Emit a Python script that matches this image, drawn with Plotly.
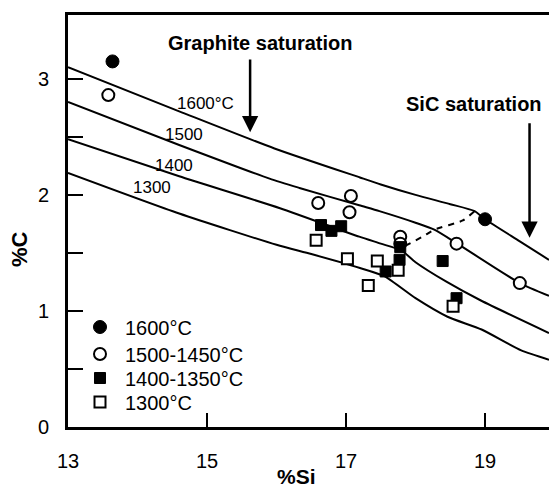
import plotly.graph_objects as go

# ---- isotherm curves (%Si, %C) ----
x1600 = [13.0, 14.6, 15.97, 17.2, 17.5, 18.0, 18.5, 18.85, 19.0, 19.5, 19.92]
y1600 = [3.10, 2.72, 2.40, 2.15, 2.09, 2.00, 1.92, 1.86, 1.79, 1.60, 1.44]
x1500 = [13.0, 14.6, 15.9, 16.33, 17.19, 17.48, 18.0, 18.27, 18.6, 19.5, 19.92]
y1500 = [2.80, 2.43, 2.14, 2.06, 1.91, 1.86, 1.76, 1.70, 1.58, 1.24, 1.13]
x1400 = [13.0, 14.6, 16.05, 17.19, 17.5, 17.8, 18.0, 18.45, 18.94, 19.92]
y1400 = [2.48, 2.16, 1.885, 1.64, 1.58, 1.52, 1.42, 1.25, 1.09, 0.81]
x1300 = [13.0, 14.6, 16.0, 16.5, 17.2, 17.55, 18.0, 18.46, 18.95, 19.52, 19.92]
y1300 = [2.19, 1.84, 1.57, 1.49, 1.37, 1.30, 1.11, 0.95, 0.84, 0.66, 0.58]
x_sic = [17.85, 18.1, 18.27, 18.68, 18.85]
y_sic = [1.56, 1.64, 1.70, 1.78, 1.86]

# ---- measured points ----
si_1600 = [13.64, 19.0]
c_1600 = [3.15, 1.79]
si_1500 = [13.58, 16.60, 17.07, 17.05, 17.78, 17.78, 18.59, 19.50]
c_1500 = [2.86, 1.93, 1.99, 1.85, 1.64, 1.58, 1.58, 1.24]
si_1400 = [16.64, 16.79, 16.93, 17.78, 17.77, 17.57, 18.39, 18.59]
c_1400 = [1.74, 1.69, 1.73, 1.55, 1.44, 1.34, 1.43, 1.11]
si_1300 = [16.57, 17.02, 17.45, 17.32, 17.75, 18.54]
c_1300 = [1.61, 1.45, 1.43, 1.22, 1.35, 1.04]

legend_names = ["1600°C", "1500-1450°C", "1400-1350°C", "1300°C"]
curve_labels = ["1600°C", "1500", "1400", "1300"]
curve_label_x = [14.98, 14.67, 14.53, 14.21]
curve_label_y = [2.79, 2.52, 2.25, 2.06]

x_ticks = [13, 15, 17, 19]
y_ticks = [0, 0.5, 1, 1.5, 2, 2.5, 3]
y_ticktext = ["0", "", "1", "", "2", "", "3"]

FONT = "Arial, Liberation Sans, sans-serif"

L, R, T, B = 68, 0, 15, 63
W, H = 549, 490
pw, ph = W - L - R, H - T - B


def px2paper(px, py):
    return (px - L) / pw, (H - B - py) / ph


fig = go.Figure()
for xs, ys in [(x1600, y1600), (x1500, y1500), (x1400, y1400), (x1300, y1300)]:
    fig.add_trace(go.Scatter(x=xs, y=ys, mode="lines", showlegend=False,
                             line=dict(color="black", width=2, shape="spline", smoothing=0.6),
                             hoverinfo="skip"))
fig.add_trace(go.Scatter(x=x_sic, y=y_sic, mode="lines", showlegend=False,
                         line=dict(color="black", width=2, dash="6px,6px", shape="spline", smoothing=0.6),
                         hoverinfo="skip"))

legend_ids = ["legend", "legend2", "legend3", "legend4"]
marker_styles = [
    dict(symbol="circle", size=13, color="black", line=dict(color="black", width=1)),
    dict(symbol="circle", size=12, color="white", line=dict(color="black", width=2)),
    dict(symbol="square", size=11, color="black", line=dict(color="black", width=1)),
    dict(symbol="square", size=11, color="white", line=dict(color="black", width=2)),
]
for xs, ys, nm, lg, ms in zip([si_1600, si_1500, si_1400, si_1300],
                              [c_1600, c_1500, c_1400, c_1300],
                              legend_names, legend_ids, marker_styles):
    fig.add_trace(go.Scatter(x=xs, y=ys, mode="markers", name=nm, legend=lg, marker=ms))

annotations = []
for t, lx, ly in zip(curve_labels, curve_label_x, curve_label_y):
    annotations.append(dict(x=lx, y=ly, xref="x", yref="y", text=t, showarrow=False,
                            font=dict(family=FONT, size=17, color="black")))

sx, sy = px2paper(296, 476)
cx, cy = px2paper(19, 249)
annotations += [
    dict(x=15.76, y=3.31, xref="x", yref="y", text="<b>Graphite saturation</b>",
         showarrow=False, font=dict(family=FONT, size=20, color="black")),
    dict(x=15.62, y=2.54, ax=15.62, ay=3.18, xref="x", yref="y", axref="x", ayref="y",
         text="", showarrow=True, arrowhead=2, arrowsize=1.3, arrowwidth=2.5, arrowcolor="black"),
    dict(x=18.84, y=2.78, xref="x", yref="y", text="<b>SiC saturation</b>",
         showarrow=False, font=dict(family=FONT, size=20, color="black")),
    dict(x=19.64, y=1.63, ax=19.64, ay=2.63, xref="x", yref="y", axref="x", ayref="y",
         text="", showarrow=True, arrowhead=2, arrowsize=1.3, arrowwidth=2.5, arrowcolor="black"),
    dict(x=sx, y=sy, xref="paper", yref="paper", xanchor="center", yanchor="middle",
         text="<b>%Si</b>", showarrow=False, font=dict(family=FONT, size=21, color="black")),
    dict(x=cx, y=cy, xref="paper", yref="paper", xanchor="center", yanchor="middle",
         text="<b>%C</b>", showarrow=False, textangle=-90,
         font=dict(family=FONT, size=22, color="black")),
]

legend_rows = [327, 354, 378, 402]
legends = {}
for lg, row in zip(legend_ids, legend_rows):
    lx, ly = px2paper(75, row)
    legends[lg] = dict(x=lx, y=ly, xanchor="left", yanchor="middle", itemwidth=40,
                       bgcolor="rgba(0,0,0,0)", borderwidth=0,
                       font=dict(family=FONT, size=20, color="black"))

fig.update_layout(
    width=W, height=H,
    margin=dict(l=L, r=R, t=T, b=B, pad=0),
    paper_bgcolor="white", plot_bgcolor="white",
    font=dict(family=FONT, size=20, color="black"),
    showlegend=True,
    annotations=annotations,
    xaxis=dict(range=[13, 19.92], showline=True, linewidth=3, linecolor="black", mirror=True,
               ticks="inside", ticklen=14, tickwidth=2, tickcolor="black",
               tickvals=x_ticks, ticktext=[str(v) for v in x_ticks],
               ticklabelstandoff=14, showgrid=False, zeroline=False,
               tickfont=dict(family=FONT, size=20)),
    yaxis=dict(range=[0, 3.55], showline=True, linewidth=3, linecolor="black",
               ticks="inside", ticklen=15, tickwidth=2, tickcolor="black",
               tickvals=y_ticks, ticktext=y_ticktext,
               ticklabelstandoff=12, showgrid=False, zeroline=False,
               tickfont=dict(family=FONT, size=20)),
    **legends,
)

fig.write_html("out.html", config={"displayModeBar": False},
               post_script="document.body.style.margin='0px';document.body.style.overflow='hidden';")
